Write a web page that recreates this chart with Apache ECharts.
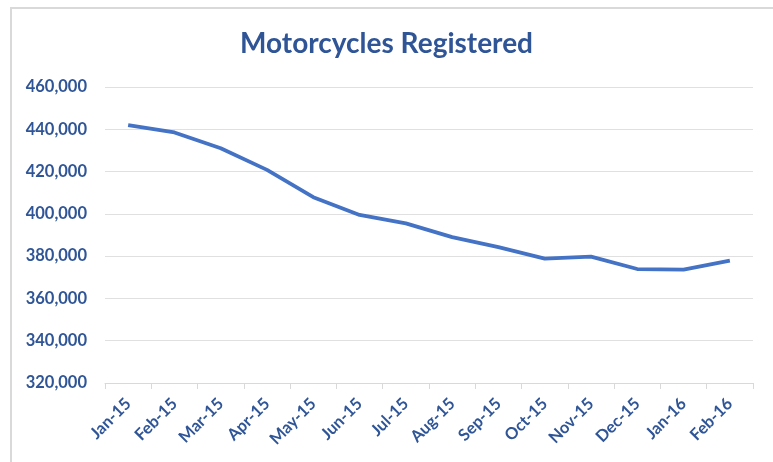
<!DOCTYPE html>
<html>
<head>
<meta charset="utf-8">
<script src="https://cdn.jsdelivr.net/npm/echarts@6/dist/echarts.min.js"></script>
<style>
html,body{margin:0;padding:0;background:#fff;}
#chart{width:773px;height:462px;}
</style>
</head>
<body>
<div id="chart"></div>
<script>
const categories = ['Jan-15','Feb-15','Mar-15','Apr-15','May-15','Jun-15','Jul-15','Aug-15','Sep-15','Oct-15','Nov-15','Dec-15','Jan-16','Feb-16'];
const registered = [442000, 438500, 431000, 420800, 407900, 399500, 395500, 389000, 384300, 378800, 379800, 373900, 373600, 377900];
const yTicks = { min: 320000, max: 460000, interval: 20000 };

const blue = '#2F5597';
const chart = echarts.init(document.getElementById('chart'));
chart.setOption({
  animation: false,
  backgroundColor: '#fff',
  title: {
    text: 'Motorcycles Registered',
    left: 'center',
    top: 25,
    textStyle: { fontFamily: 'Lato', fontWeight: 'bold', fontSize: 28, color: blue }
  },
  graphic: [{
    type: 'rect',
    shape: { x: 11, y: 8, width: 800, height: 500 },
    style: { fill: 'none', stroke: '#d9d9d9', lineWidth: 2 },
    silent: true
  }],
  grid: { left: 105, right: 20, top: 87, bottom: 79, containLabel: false },
  xAxis: {
    type: 'category',
    data: categories,
    boundaryGap: true,
    axisLine: { lineStyle: { color: '#d9d9d9', width: 1 } },
    axisTick: { show: true, length: 6, lineStyle: { color: '#d9d9d9' } },
    axisLabel: { rotate: 45, interval: 0, margin: 18, fontFamily: 'Lato', fontWeight: 'bold', fontSize: 16.5, color: blue }
  },
  yAxis: {
    type: 'value',
    min: yTicks.min, max: yTicks.max, interval: yTicks.interval,
    axisLine: { show: false },
    axisTick: { show: false },
    splitLine: { lineStyle: { color: '#e0e0e0', width: 1 } },
    axisLabel: {
      margin: 18, fontFamily: 'Lato', fontWeight: 'bold', fontSize: 16.5, color: blue,
      formatter: v => v.toLocaleString('en-US')
    }
  },
  series: [{
    type: 'line',
    data: registered,
    symbol: 'none',
    lineStyle: { color: '#4472C4', width: 3.8 },
    smooth: false
  }]
});
</script>
</body>
</html>
